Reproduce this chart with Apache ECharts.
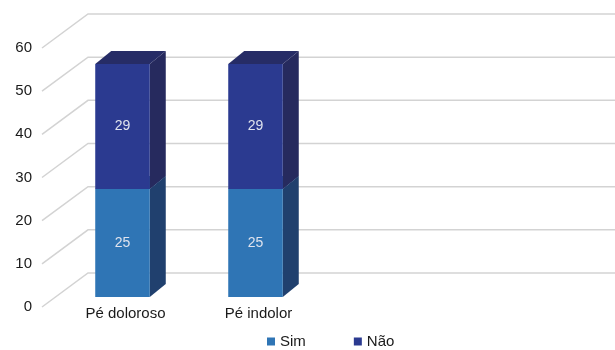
<!DOCTYPE html>
<html>
<head>
<meta charset="utf-8">
<script src="https://cdn.jsdelivr.net/npm/echarts@6/dist/echarts.min.js"></script>
<style>html,body{margin:0;padding:0;background:#fff}#c{width:615px;height:350px}</style>
</head>
<body>
<div id="c"></div>
<script>
var categories = ['Pé doloroso', 'Pé indolor', '', ''];
var simValues = [25, 25, null, null];
var naoValues = [29, 29, null, null];
var yTicks = [0, 10, 20, 30, 40, 50, 60];

// 3D look (pixels)
var WALL_DX = 46, WALL_DY = -34;   // depth of the floor/wall
var BAR_FX = 14, BAR_FY = -10;     // bar front offset inside the depth
var BAR_DX = 16, BAR_DY = -13;     // bar depth
var BAR_W = 0.41;                  // fraction of band

var FONT = '"Liberation Sans", Arial, sans-serif';

function stackData(vals, bases) {
  return vals.map(function (v, i) {
    if (v == null) return [i, 0, null];
    return [i, bases ? (bases[i] || 0) : 0, v];
  });
}

function makeBarRenderer(front, side, top) {
  return function (params, api) {
    var val = api.value(2);
    if (val == null || isNaN(val)) return null;
    var cat = api.value(0), base = api.value(1);
    var p0 = api.coord([cat, base]);
    var p1 = api.coord([cat, base + val]);
    var band = api.size([1, 0])[0];
    var w = band * BAR_W;
    var x0 = p0[0] - w / 2 + BAR_FX, x1 = x0 + w;
    var yb = p0[1] + BAR_FY, yt = p1[1] + BAR_FY;
    return {
      type: 'group',
      children: [
        { type: 'polygon', shape: { points: [[x1, yb], [x1 + BAR_DX, yb + BAR_DY], [x1 + BAR_DX, yt + BAR_DY], [x1, yt]] }, style: { fill: side } },
        { type: 'polygon', shape: { points: [[x0, yt], [x0 + BAR_DX, yt + BAR_DY], [x1 + BAR_DX, yt + BAR_DY], [x1, yt]] }, style: { fill: top } },
        { type: 'rect', shape: { x: x0, y: yt, width: w, height: yb - yt }, style: { fill: front } },
        { type: 'text', style: { x: (x0 + x1) / 2, y: (yt + yb) / 2, text: String(val), fill: '#dfe3ee', font: '14px ' + FONT, align: 'center', verticalAlign: 'middle' } }
      ]
    };
  };
}

var chart = echarts.init(document.getElementById('c'), null, { renderer: 'canvas' });
chart.setOption({
  animation: false,
  backgroundColor: '#ffffff',
  grid: { left: 42, right: 41, top: 48, bottom: 43, containLabel: false },
  xAxis: {
    type: 'category', data: categories,
    axisLine: { show: false }, axisTick: { show: false }, splitLine: { show: false },
    axisLabel: { color: '#1a1a1a', fontSize: 15, fontFamily: FONT, margin: -1, padding: [0, 0, 0, 34] }
  },
  yAxis: {
    type: 'value', min: 0, max: 60, interval: 10,
    axisLine: { show: false }, axisTick: { show: false }, splitLine: { show: false },
    axisLabel: { color: '#1a1a1a', fontSize: 15, fontFamily: FONT, margin: 10 }
  },
  legend: {
    data: ['Sim', 'Não'], left: 262, top: 329, icon: 'rect', itemWidth: 8, itemHeight: 8, itemGap: 48,
    textStyle: { color: '#1a1a1a', fontSize: 15, fontFamily: FONT }
  },
  series: [
    {
      type: 'custom', name: 'grid', silent: true, clip: false, z: 1,
      data: yTicks.map(function (v) { return [0, v]; }),
      renderItem: function (params, api) {
        var cs = params.coordSys;
        var y = api.coord([0, api.value(1)])[1];
        return { type: 'polyline', shape: { points: [[cs.x, y], [cs.x + WALL_DX, y + WALL_DY], [api.getWidth(), y + WALL_DY]] }, style: { stroke: '#d3d3d3', lineWidth: 1.5, fill: null } };
      }
    },
    {
      type: 'custom', name: 'Sim', z: 2, clip: false,
      itemStyle: { color: '#2f75b5' },
      data: stackData(simValues, null),
      renderItem: makeBarRenderer('#2f75b5', '#20406e', '#2a5d95')
    },
    {
      type: 'custom', name: 'Não', z: 3, clip: false,
      itemStyle: { color: '#2b3a90' },
      data: stackData(naoValues, simValues),
      renderItem: makeBarRenderer('#2b3a90', '#262a5e', '#262c66')
    }
  ]
});
</script>
</body>
</html>
